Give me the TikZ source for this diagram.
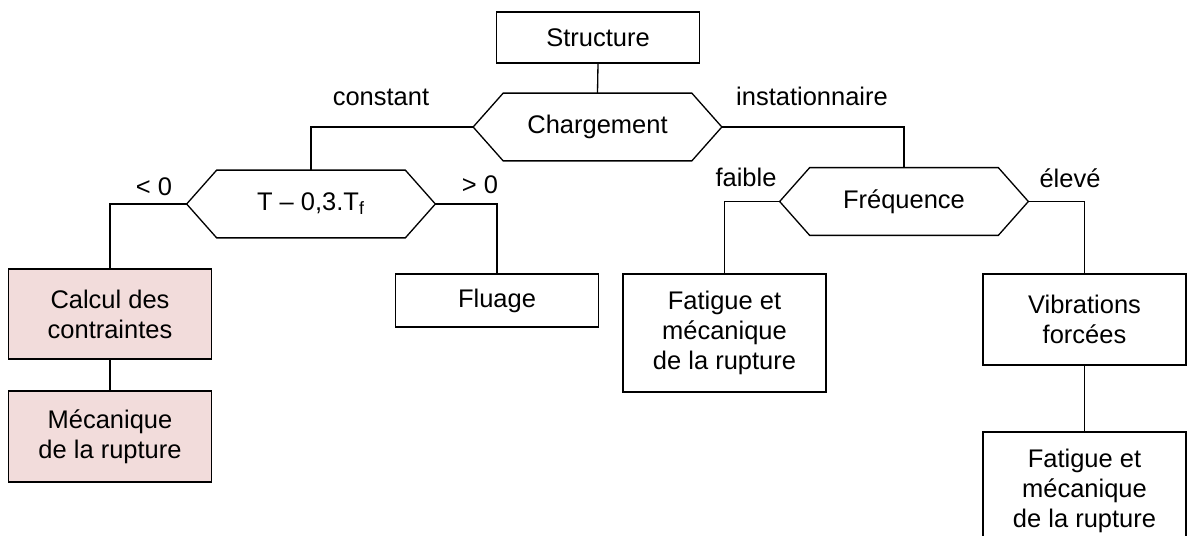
\documentclass[tikz,border=0pt]{standalone}
\usepackage{fontspec}
\setmainfont{Liberation Sans}
\definecolor{rosebox}{RGB}{242,220,219}
\tikzset{
    box/.style={draw, line width=0.75pt, minimum width=4.06cm, align=center, inner sep=0pt,
        font=\fontsize{14.5}{17}\selectfont},
    hexnode/.style={minimum width=4.96cm, minimum height=1.34cm, inner sep=0pt,
        font=\fontsize{14.5}{17}\selectfont},
    lbl/.style={anchor=base, inner sep=0pt, font=\fontsize{14.5}{17}\selectfont},
    link/.style={line width=0.75pt}
}
\begin{document}
\begin{tikzpicture}
        \useasboundingbox (0,0) rectangle (23.86,10.7);
        \clip (0,0) rectangle (23.86,10.7);

        % boxes
        \node[box, minimum height=1.02cm] (struct) at (11.96,9.95) {Structure};
        \node[box, minimum height=1.80cm, fill=rosebox] (calcul) at (2.20,4.42) {Calcul des\\contraintes};
        \node[box, minimum height=1.82cm, fill=rosebox] (meca) at (2.20,1.97) {Mécanique\\de la rupture};
        \node[box, minimum height=1.06cm] (fluage) at (9.94,4.69) {Fluage};
        \node[box, minimum height=2.36cm] (fatig1) at (14.49,4.04) {Fatigue et\\mécanique\\de la rupture};
        \node[box, minimum height=1.82cm] (vib) at (21.69,4.31) {Vibrations\\forcées};
        \node[box, minimum height=2.36cm] (fatig2) at (21.69,0.88) {Fatigue et\\mécanique\\de la rupture};

        % decisions
        \node[hexnode] (charge) at (11.95,8.16) {Chargement};
        \node[hexnode] (temp) at (6.22,6.62) {T – 0,3.T\textsubscript{f}};
        \node[hexnode] (freq) at (18.08,6.67) {Fréquence};
        \foreach \h in {charge,temp,freq} {
            \draw[link] (\h.west) -- ([xshift=0.6cm]\h.north west) -- ([xshift=-0.6cm]\h.north east)
                -- (\h.east) -- ([xshift=-0.6cm]\h.south east) -- ([xshift=0.6cm]\h.south west) -- cycle;
        }

        % connectors
        \draw[link] (struct.south) -- (charge.north);
        \draw[link] (charge.west) -| (temp.north);
        \draw[link] (charge.east) -| (freq.north);
        \draw[link] (temp.west) -| (calcul.north);
        \draw[link] (temp.east) -| (fluage.north);
        \draw[link] (freq.west) -| (fatig1.north);
        \draw[link] (freq.east) -| (vib.north);
        \draw[link] (calcul.south) -- (meca.north);
        \draw[link] (vib.south) -- (fatig2.north);

        % branch labels
        \node[lbl] (lconst) at (7.62,8.58) {constant};
        \node[lbl] (linst) at (16.24,8.58) {instationnaire};
        \node[lbl] (lneg) at (3.08,6.80) {< 0};
        \node[lbl] (lpos) at (9.60,6.84) {> 0};
        \node[lbl] (lfaible) at (14.92,6.96) {faible};
        \node[lbl] (leleve) at (21.40,6.94) {élevé};
    \end{tikzpicture}
\end{document}
